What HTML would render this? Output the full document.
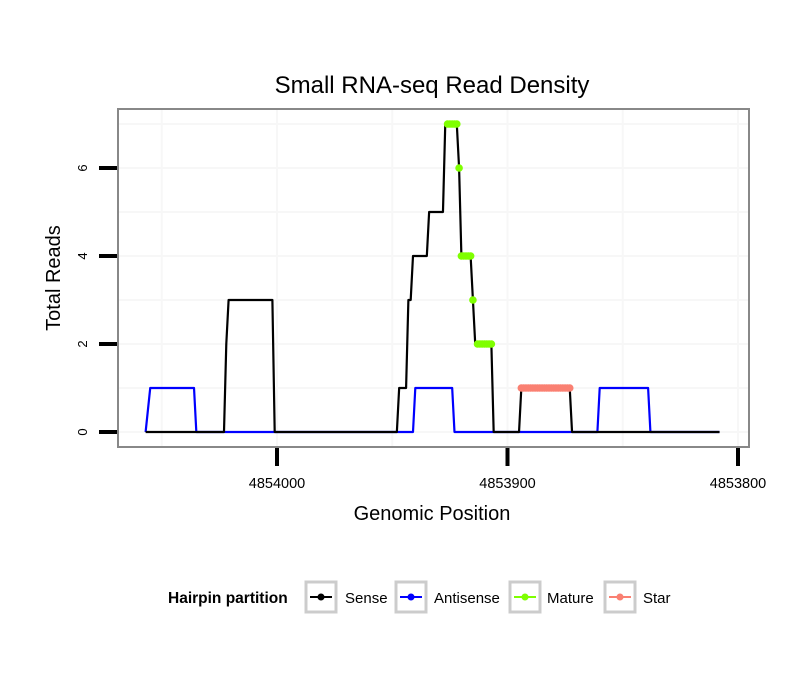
<!DOCTYPE html>
<html><head><meta charset="utf-8"><style>
body{margin:0;background:#fff;font-family:"Liberation Sans",sans-serif}
svg{display:block}
</style></head><body>
<svg id="c" width="810" height="690" xmlns="http://www.w3.org/2000/svg">
<rect width="810" height="690" fill="#fff"/>
<text x="432" y="93" text-anchor="middle" font-size="24">Small RNA-seq Read Density</text>
<g id="grid"></g>
<g id="series"></g>
<rect x="118" y="109" width="631" height="338" fill="none" stroke="#888" stroke-width="2"/>
<g id="axes"></g>
<text x="432" y="520" text-anchor="middle" font-size="20">Genomic Position</text>
<text transform="translate(60,278) rotate(-90)" text-anchor="middle" font-size="20">Total Reads</text>
<g>
<text x="168" y="603" font-size="15.5" font-weight="bold">Hairpin partition</text>
<g><rect x="306" y="582" width="30" height="30" fill="#fff" stroke="#ccc" stroke-width="3"/><line x1="310" y1="597" x2="332" y2="597" stroke="#000" stroke-width="2"/><circle cx="321" cy="597" r="3.5" fill="#000"/><text x="345" y="603" font-size="15">Sense</text></g>
<g><rect x="396" y="582" width="30" height="30" fill="#fff" stroke="#ccc" stroke-width="3"/><line x1="400" y1="597" x2="422" y2="597" stroke="#00f" stroke-width="2"/><circle cx="411" cy="597" r="3.5" fill="#00f"/><text x="434" y="603" font-size="15">Antisense</text></g>
<g><rect x="510" y="582" width="30" height="30" fill="#fff" stroke="#ccc" stroke-width="3"/><line x1="514" y1="597" x2="536" y2="597" stroke="#7fff00" stroke-width="2"/><circle cx="525" cy="597" r="3.5" fill="#7fff00"/><text x="547" y="603" font-size="15">Mature</text></g>
<g><rect x="605" y="582" width="30" height="30" fill="#fff" stroke="#ccc" stroke-width="3"/><line x1="609" y1="597" x2="631" y2="597" stroke="#fa8072" stroke-width="2"/><circle cx="620" cy="597" r="3.5" fill="#fa8072"/><text x="643" y="603" font-size="15">Star</text></g>
</g>
</svg>
<script>
const senseX=[4854057,4854023,4854022,4854021,4854002,4854001,4853948,4853947,4853944,4853943,4853942,4853941,4853935,4853934,4853928,4853927,4853922,4853921,4853920,4853916,4853915,4853914,4853907,4853906,4853895,4853894,4853873,4853872,4853808];
const senseY=[0,0,2,3,3,0,0,1,1,3,3,4,4,5,5,7,7,6,4,4,3,2,2,0,0,1,1,0,0];
const antiX=[4854057,4854055,4854036,4854035,4853941,4853940,4853924,4853923,4853861,4853860,4853839,4853838,4853808];
const antiY=[0,1,1,0,0,1,1,0,0,1,1,0,0];
const matureX=[4853926,4853925,4853924,4853923,4853922,4853921,4853920,4853919,4853918,4853917,4853916,4853915,4853913,4853912,4853911,4853910,4853909,4853908,4853907];
const matureY=[7,7,7,7,7,6,4,4,4,4,4,3,2,2,2,2,2,2,2];
const starX=[4853894,4853893,4853892,4853891,4853890,4853889,4853888,4853887,4853886,4853885,4853884,4853883,4853882,4853881,4853880,4853879,4853878,4853877,4853876,4853875,4853874,4853873];
const starY=[1,1,1,1,1,1,1,1,1,1,1,1,1,1,1,1,1,1,1,1,1,1];
const xTicks=[4854000,4853900,4853800];
const yTicks=[0,2,4,6];
const NS="http://www.w3.org/2000/svg";
const sx=p=>277+(4854000-p)*2.305;
const sy=v=>432-v*44;
function mk(tag,attrs,parent){const e=document.createElementNS(NS,tag);for(const k in attrs)e.setAttribute(k,attrs[k]);parent.appendChild(e);return e;}
const grid=document.getElementById('grid'),ser=document.getElementById('series'),axes=document.getElementById('axes');
for(let v=0;v<=7;v++){const l=mk('line',{x1:119,x2:748,y1:sy(v),y2:sy(v),stroke:'#f7f7f7','stroke-width':2},grid);

}
[4854050,4854000,4853950,4853900,4853850,4853800].forEach(p=>{const l=mk('line',{x1:sx(p),x2:sx(p),y1:110,y2:446,stroke:'#f7f7f7','stroke-width':2},grid);

});
function line(xs,ys,col,name){const pts=xs.map((x,i)=>sx(x)+','+sy(ys[i])).join(' ');
const e=mk('polyline',{points:pts,fill:'none',stroke:col,'stroke-width':2.2,'stroke-linejoin':'round'},ser);

}
function pts(xs,ys,col,name){xs.forEach((x,i)=>{const c=mk('circle',{cx:sx(x),cy:sy(ys[i]),r:3.8,fill:col},ser);

});}
line(antiX,antiY,'#0000ff','antisense-line');
line(senseX,senseY,'#000000','sense-line');
pts(matureX,matureY,'#7fff00','mature');
pts(starX,starY,'#fa8072','star');
yTicks.forEach(v=>{const t=mk('line',{x1:99,x2:117,y1:sy(v),y2:sy(v),stroke:'#000','stroke-width':4},axes);


const tx=mk('text',{transform:`translate(87,${sy(v)}) rotate(-90)`,'text-anchor':'middle','font-size':13},axes);
tx.textContent=v;

});
xTicks.forEach(p=>{const t=mk('line',{x1:sx(p),x2:sx(p),y1:448,y2:466,stroke:'#000','stroke-width':4},axes);


const tx=mk('text',{x:sx(p),y:488,'text-anchor':'middle','font-size':14.5},axes);
tx.textContent=p;

});
</script>
</body></html>
